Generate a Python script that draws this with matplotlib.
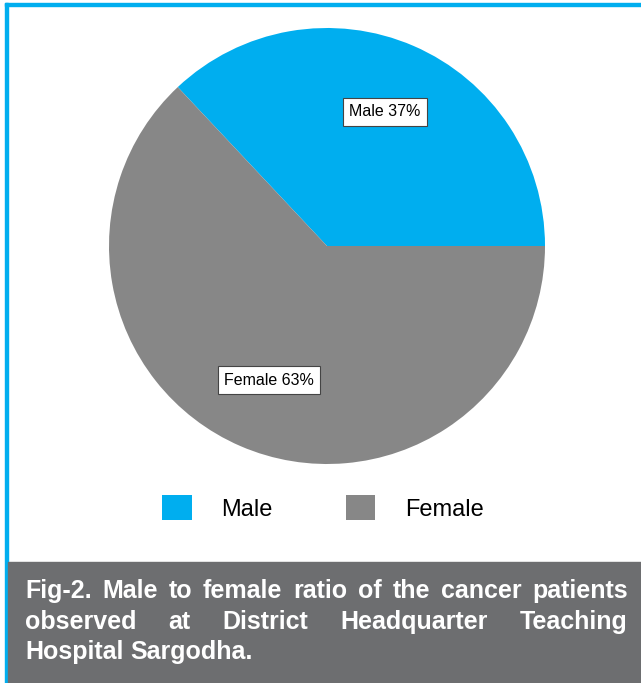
import matplotlib
matplotlib.use("Agg")
import matplotlib.pyplot as plt
from matplotlib.patches import Rectangle

# data
categories = ["Male", "Female"]
shares = [37, 63]
colors = ["#00AEEF", "#878787"]
caption_lines = [
    "Fig-2. Male to female ratio of the cancer patients",
    "observed at District Headquarter Teaching",
    "Hospital Sargodha.",
]

W, H = 641, 683
plt.rcParams["font.family"] = ["Liberation Sans", "DejaVu Sans"]
fig = plt.figure(figsize=(W / 100, H / 100), dpi=100)

# frame: cyan top and left rules, dark caption box
fig.patches.append(Rectangle((5 / W, 1 - 6 / H), 1, 3 / H, transform=fig.transFigure,
                             color="#00AEEF", zorder=0))
fig.patches.append(Rectangle((5 / W, 0), 3 / W, 1 - 3 / H, transform=fig.transFigure,
                             color="#00AEEF", zorder=0))
fig.patches.append(Rectangle((8 / W, 0), 1, (H - 562) / H, transform=fig.transFigure,
                             color="#6D6E70", zorder=0))

# pie, centred at (327, 246) px with radius 218 px
cx, cy, r = 327, 246, 218
ax = fig.add_axes([(cx - r) / W, (H - cy - r) / H, 2 * r / W, 2 * r / H])
labels = [f"{c} {s}%" for c, s in zip(categories, shares)]
wedges, texts = ax.pie(shares, colors=colors, startangle=0, counterclock=True,
                       labels=labels, labeldistance=0.67,
                       textprops=dict(fontsize=11.5, color="black"))
for t in texts:
    t.set_ha("center")
    t.set_va("center")
    t.set_bbox(dict(boxstyle="square,pad=0.4", fc="white", ec="#444444", lw=0.8))
ax.set_xlim(-1, 1)
ax.set_ylim(-1, 1)
ax.set_aspect("equal")
ax.axis("off")

fig.legend(wedges, categories, loc="center", bbox_to_anchor=(323 / W, 1 - 508 / H),
           ncol=2, frameon=False, fontsize=17, handlelength=1.25, handleheight=1.2,
           handletextpad=1.25, columnspacing=3.1)

# justified caption
left, right = 25, 628
baselines = [598, 629, 659]
fs = 18
renderer = fig.canvas.get_renderer()
probe1 = fig.text(0, 0, "a a", fontsize=fs, fontweight="bold")
probe2 = fig.text(0, 0, "aa", fontsize=fs, fontweight="bold")
sp = probe1.get_window_extent(renderer).width - probe2.get_window_extent(renderer).width
probe1.remove()
probe2.remove()
for i, line in enumerate(caption_lines):
    words = line.split()
    y = 1 - baselines[i] / H
    objs = [fig.text(0, y, w, color="white", fontsize=fs, fontweight="bold",
                     va="baseline", ha="left") for w in words]
    widths = [o.get_window_extent(renderer).width for o in objs]
    if i < len(caption_lines) - 1 and len(words) > 1:
        gap = (right - left - sum(widths)) / (len(words) - 1)
    else:
        gap = sp
    x = left
    for o, w in zip(objs, widths):
        o.set_x(x / W)
        x += w + gap

fig.savefig("out.png", dpi=100)
